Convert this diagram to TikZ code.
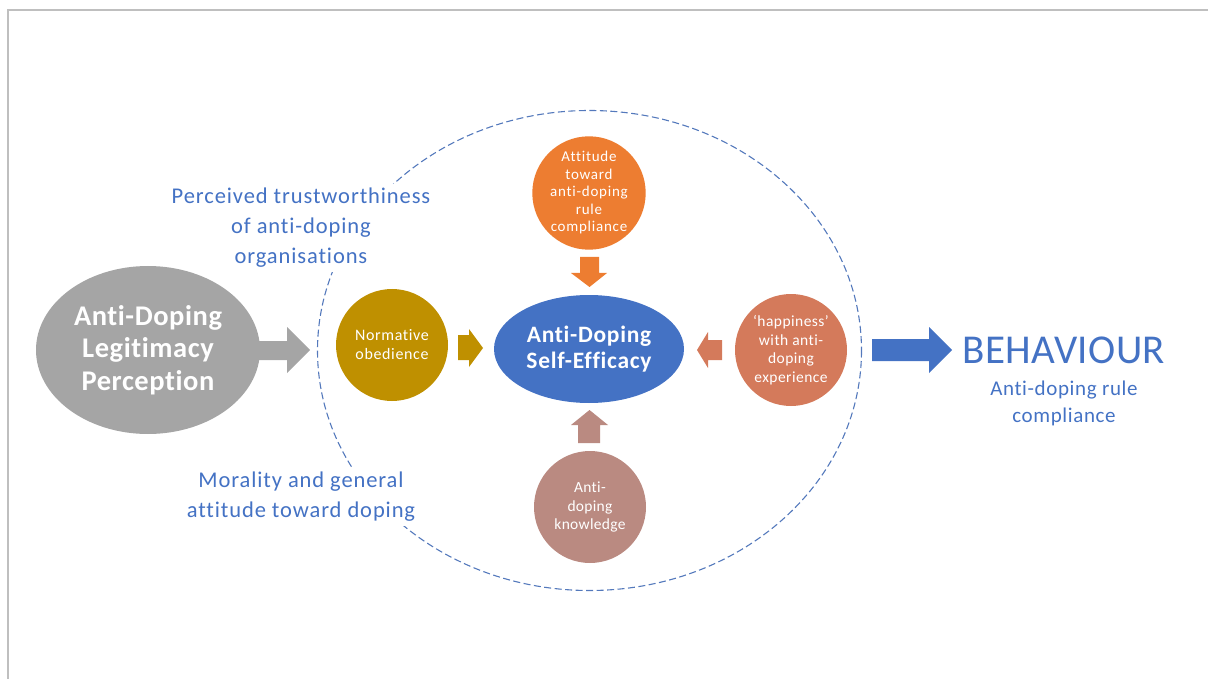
\documentclass[tikz,border=0pt]{standalone}
\usepackage{fontspec}
\setmainfont{Carlito}[Ligatures=NoCommon]
\usetikzlibrary{shapes.geometric}
\definecolor{legitgray}{HTML}{A5A5A5}
\definecolor{framegray}{HTML}{BFBFBF}
\definecolor{accblue}{HTML}{4472C4}
\definecolor{dashblue}{HTML}{5479BC}
\definecolor{normgold}{HTML}{BF9000}
\definecolor{attorange}{HTML}{ED7D31}
\definecolor{happysalmon}{HTML}{D47A5B}
\definecolor{knowrose}{HTML}{BA8A81}
% font size with a little tracking
\newcommand{\trk}[3]{\fontsize{#1}{#2}\selectfont\addfontfeatures{LetterSpace=#3}}
\tikzset{
  disc/.style={circle, minimum size=112pt, inner sep=0pt, text=white, align=center},
  bluelabel/.style={text=accblue, align=center, fill=white, inner sep=4pt},
}
\begin{document}
\begin{tikzpicture}[x=1pt, y=-1pt]
\useasboundingbox (0,0) rectangle (1208,679);
% page frame
\draw[framegray, line width=1.5pt] (8,679) -- (8,10) -- (1208,10);

% dashed ring around the self-efficacy factors
\draw[dashblue, line width=1.1pt, dash pattern=on 7pt off 3.5pt] (589.5,350.5) ellipse [x radius=272, y radius=240];

% left-hand labels (white fill breaks the ring)
\node[bluelabel, font=\trk{22.5}{30}{4}] (trust) at (301,228)
  {Perceived trustworthiness\\of anti-doping\\organisations};
\node[bluelabel, font=\trk{22.5}{30}{4}] (moral) at (301,497)
  {Morality and general\\attitude toward doping};

% legitimacy perception
\fill[legitgray] (250,341) -- (287,341) -- (287,327) -- (310,350) -- (287,373) -- (287,360) -- (250,360) -- cycle;
\node[ellipse, fill=legitgray, minimum width=224pt, minimum height=168pt, inner sep=0pt,
  text=white, align=center, font=\bfseries\trk{28.5}{32.5}{2}] (legit) at (148,350)
  {Anti-Doping\\Legitimacy\\Perception};

% central construct
\node[ellipse, fill=accblue, minimum width=190pt, minimum height=108pt, inner sep=0pt,
  text=white, align=center, font=\bfseries\trk{23.5}{26}{3}] (self) at (589,349)
  {Anti-Doping\\Self-Efficacy};

% contributing factors
\node[disc, fill=normgold, font=\trk{16}{19}{4}] (norm) at (392,345) {Normative\\obedience};
\node[disc, fill=attorange, font=\trk{15}{17.5}{5}] (att) at (589,193)
  {Attitude\\toward\\anti-doping\\rule\\compliance};
\node[disc, fill=happysalmon, font=\trk{15.5}{18.5}{3}] (happy) at (791,350)
  {`happiness'\\with anti-\\doping\\experience};
\node[disc, fill=knowrose, font=\trk{15.5}{18.5}{2}] (know) at (590,507)
  {Anti-\\doping\\knowledge};

% block arrows into the central construct
\fill[normgold] (458,335) -- (469,335) -- (469,329) -- (483,348) -- (469,367) -- (469,360) -- (458,360) -- cycle;
\fill[attorange] (580,257) -- (599,257) -- (599,273) -- (607,273) -- (589.5,287) -- (571,273) -- (580,273) -- cycle;
\fill[happysalmon] (722,340) -- (708,340) -- (708,332) -- (697,350) -- (708,368) -- (708,360) -- (722,360) -- cycle;
\fill[knowrose] (578,443) -- (600,443) -- (600,425) -- (608,425) -- (589.5,410) -- (571,425) -- (578,425) -- cycle;

% outcome
\fill[accblue] (872,339) -- (929,339) -- (929,327) -- (952,350) -- (929,373) -- (929,361) -- (872,361) -- cycle;
\node[text=accblue, anchor=base, font=\trk{41}{44}{1}, inner sep=0pt] (beh) at (1064,363) {BEHAVIOUR};
\node[text=accblue, align=center, font=\trk{21}{27}{3}] (comp) at (1064,403.5)
  {Anti-doping rule\\compliance};
\end{tikzpicture}
\end{document}
